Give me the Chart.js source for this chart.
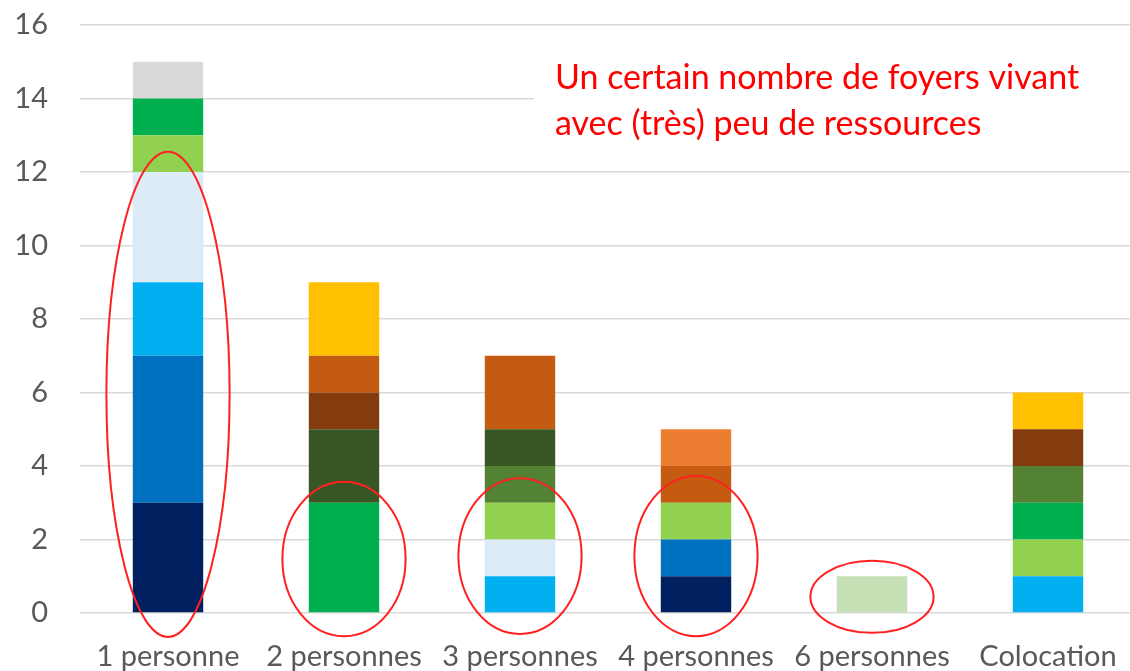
<!DOCTYPE html>
<html>
<head>
<meta charset="utf-8">
<script src="https://cdn.jsdelivr.net/npm/chart.js@4/dist/chart.umd.min.js"></script>
<style>
    html, body { margin: 0; padding: 0; background: #fff; overflow: hidden; }
    #wrap { width: 1140px; height: 671px; }
</style>
</head>
<body>
<div id="wrap"><canvas id="graphique"></canvas></div>
<script>
// Catégories (type de foyer)
const categories = ['1 personne', '2 personnes', '3 personnes', '4 personnes', '6 personnes', 'Colocation'];
const yTicks = [0, 2, 4, 6, 8, 10, 12, 14, 16];

// Séries empilées, de bas en haut
const tranche1 = [3, 0, 0, 1, 0, 0];
const tranche2 = [4, 0, 0, 1, 0, 0];
const tranche3 = [2, 0, 1, 0, 0, 1];
const tranche4 = [3, 0, 1, 0, 0, 0];
const tranche5 = [1, 0, 1, 1, 0, 1];
const tranche6 = [1, 3, 0, 0, 0, 1];
const tranche7 = [1, 0, 0, 0, 0, 0];
const tranche8 = [0, 0, 0, 0, 1, 0];
const tranche9 = [0, 0, 1, 0, 0, 1];
const tranche10 = [0, 2, 1, 0, 0, 0];
const tranche11 = [0, 1, 0, 0, 0, 1];
const tranche12 = [0, 1, 2, 1, 0, 0];
const tranche13 = [0, 0, 0, 1, 0, 0];
const tranche14 = [0, 2, 0, 0, 0, 1];

const series = [tranche1, tranche2, tranche3, tranche4, tranche5, tranche6, tranche7,
    tranche8, tranche9, tranche10, tranche11, tranche12, tranche13, tranche14];
const couleurs = ['#002060', '#0070C0', '#00B0F0', '#DDEBF7', '#92D050', '#00B050', '#D9D9D9',
    '#C5E0B4', '#548235', '#375623', '#843C0C', '#C55A11', '#ED7D31', '#FFC000'];

// Annotation
const texteLignes = ['Un certain nombre de foyers vivant', 'avec (très) peu de ressources'];
// ellipses : index de catégorie, centre (valeur), demi-hauteur (valeur)
const ellipseCat = [0, 1, 2, 3, 4];
const ellipseCentre = [5.95, 1.47, 1.55, 1.55, 0.44];
const ellipseRayon = [6.6, 2.1, 2.12, 2.18, 0.98];

const police = "Lato, 'Open Sans', sans-serif";

const annotations = {
    id: 'annotations',
    beforeDatasetsDraw(chart) {
        // cache blanc derrière le texte (coupe le quadrillage)
        const { ctx, scales: { x, y } } = chart;
        ctx.save();
        ctx.fillStyle = '#fff';
        const gauche = x.getPixelForValue(2) + 14;
        ctx.fillRect(gauche, y.getPixelForValue(15.3), chart.width - gauche, y.getPixelForValue(12.5) - y.getPixelForValue(15.3));
        ctx.restore();
    },
    afterDraw(chart) {
        const { ctx, scales: { x, y } } = chart;
        ctx.save();
        ctx.fillStyle = '#FF0000';
        ctx.font = '34px ' + police;
        ctx.textBaseline = 'middle';
        const tx = x.getPixelForValue(2) + 35;
        ctx.fillText(texteLignes[0], tx, y.getPixelForValue(14.56));
        ctx.fillText(texteLignes[1], tx, y.getPixelForValue(13.3));

        ctx.strokeStyle = '#FF2020';
        ctx.lineWidth = 2;
        const largeurCat = x.getPixelForValue(1) - x.getPixelForValue(0);
        ellipseCat.forEach((c, i) => {
            const cy = y.getPixelForValue(ellipseCentre[i]);
            const ry = y.getPixelForValue(0) - y.getPixelForValue(ellipseRayon[i]);
            ctx.beginPath();
            ctx.ellipse(x.getPixelForValue(c), cy, largeurCat * 0.35, ry, 0, 0, Math.PI * 2);
            ctx.stroke();
        });
        ctx.restore();
    }
};

new Chart(document.getElementById('graphique'), {
    type: 'bar',
    data: {
        labels: categories,
        datasets: series.map((d, i) => ({
            label: 'Tranche ' + (i + 1),
            data: d,
            backgroundColor: couleurs[i],
            borderWidth: 0,
            barPercentage: 0.8,
            categoryPercentage: 0.5
        }))
    },
    options: {
        responsive: true,
        maintainAspectRatio: false,
        animation: false,
        layout: { padding: { top: 25, right: 4, left: 0, bottom: 0 } },
        plugins: {
            legend: { display: false },
            tooltip: { enabled: false }
        },
        scales: {
            x: {
                stacked: true,
                grid: { display: false },
                border: { display: false },
                ticks: {
                    color: '#595959',
                    font: { family: police, size: 29 },
                    padding: 18,
                    maxRotation: 0,
                    autoSkip: false
                },
                afterFit(scale) {
                    scale.height = 58;
                    scale.paddingLeft = 0;
                    scale.paddingRight = 0;
                }
            },
            y: {
                stacked: true,
                min: 0,
                max: 16,
                grid: { color: '#D9D9D9', lineWidth: 1.5, drawTicks: false },
                border: { display: false },
                afterBuildTicks(scale) { scale.ticks = yTicks.map(v => ({ value: v })); },
                ticks: {
                    color: '#595959',
                    font: { family: police, size: 29 },
                    padding: 32
                },
                afterFit(scale) {
                    scale.width = 80;
                    scale.paddingTop = 0;
                    scale.paddingBottom = 0;
                }
            }
        }
    },
    plugins: [annotations]
});
</script>
</body>
</html>
